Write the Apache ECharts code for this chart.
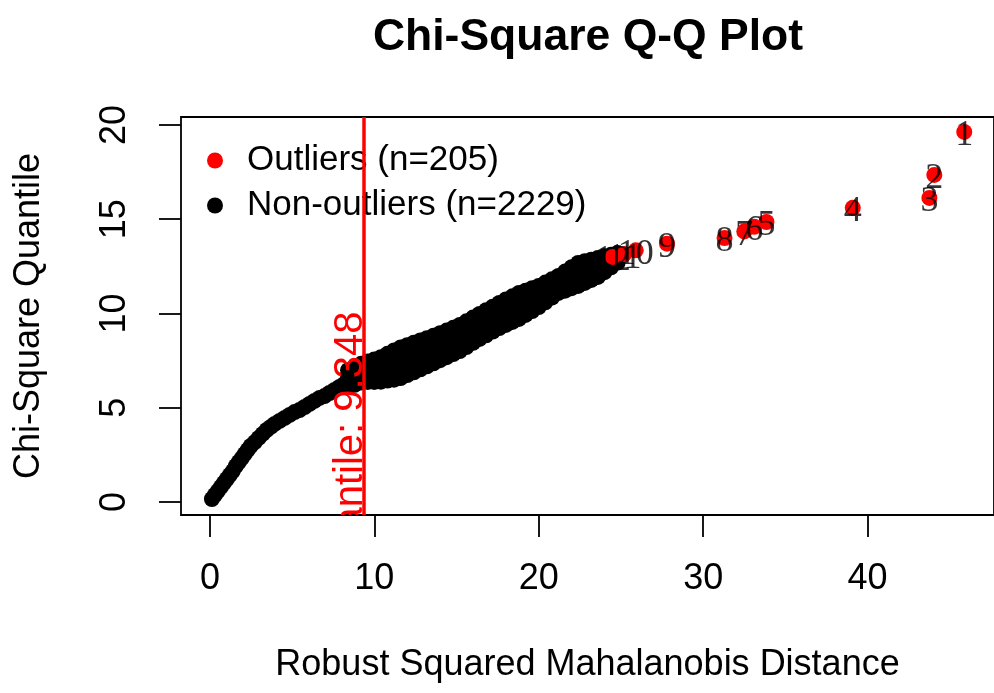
<!DOCTYPE html>
<html><head><meta charset="utf-8">
<script src="https://cdn.jsdelivr.net/npm/echarts@6/dist/echarts.min.js"></script>
<style>html,body{margin:0;padding:0;background:#fff}#c{width:994px;height:693px}</style>
</head><body><div id="c"></div>
<script>
// ---- axes ----
const xTicks = [0, 10, 20, 30, 40];
const yTicks = [0, 5, 10, 15, 20];
const cutoff = 9.348;
const cutoffLabel = '97.5% Quantile: 9.348';
const cutoffLabelEndY = 10.1;

// ---- non-outliers: lower tail ----
const tailX = [0.12,0.30,0.48,0.67,0.85,1.03,1.21,1.39,1.58,1.76,1.94,2.12,2.30,2.48,2.73,2.97,3.21,3.45,3.70,3.94,4.24,4.55,4.85,5.15,5.45,5.76,6.06,6.36,6.67,6.97,7.27,7.58,7.88,8.18,8.48,8.79,9.09];
const tailY = [0.16,0.37,0.58,0.80,1.01,1.22,1.43,1.64,1.91,2.12,2.33,2.55,2.76,2.97,3.18,3.40,3.61,3.82,3.98,4.14,4.30,4.46,4.62,4.77,4.88,5.04,5.20,5.36,5.52,5.62,5.78,5.94,6.10,6.26,6.42,6.58,6.74];

// ---- non-outliers: dense band (columns read along x, four rows across the band) ----
const bandX = [8.4,8.8,9.2,9.6,10.0,10.4,10.8,11.2,11.6,12.0,12.4,12.8,13.2,13.6,14.0,14.4,14.8,15.2,15.6,16.0,16.4,16.8,17.2,17.6,18.0,18.4,18.8,19.2,19.6,20.0,20.4,20.8,21.2,21.6,22.0,22.4,22.8,23.2,23.6,24.0,24.4,24.8];
const bandUpper = [6.99,7.16,7.33,7.45,7.56,7.68,7.86,8.04,8.20,8.32,8.45,8.57,8.69,8.82,8.95,9.09,9.24,9.39,9.58,9.78,9.97,10.17,10.36,10.56,10.74,10.91,11.09,11.21,11.34,11.46,11.64,11.81,11.99,12.22,12.45,12.68,12.77,12.85,12.94,13.03,13.11,13.20];
const bandMid1 = [6.70,6.85,7.00,7.09,7.16,7.25,7.39,7.52,7.66,7.79,7.93,8.06,8.19,8.33,8.47,8.62,8.78,8.93,9.13,9.33,9.53,9.73,9.92,10.12,10.29,10.46,10.63,10.78,10.94,11.09,11.29,11.49,11.69,11.88,12.08,12.27,12.39,12.49,12.61,12.75,12.89,13.03];
const bandMid2 = [6.40,6.53,6.67,6.73,6.77,6.81,6.91,7.01,7.11,7.26,7.40,7.55,7.70,7.85,8.00,8.15,8.31,8.47,8.67,8.89,9.09,9.28,9.48,9.67,9.84,10.00,10.17,10.35,10.53,10.71,10.94,11.16,11.39,11.55,11.71,11.87,12.00,12.14,12.27,12.47,12.67,12.87];
const bandLower = [6.11,6.22,6.34,6.37,6.37,6.38,6.44,6.49,6.57,6.73,6.88,7.04,7.20,7.36,7.52,7.68,7.85,8.01,8.22,8.44,8.65,8.84,9.04,9.23,9.39,9.55,9.71,9.92,10.13,10.34,10.59,10.84,11.09,11.21,11.34,11.46,11.62,11.78,11.94,12.19,12.45,12.70];

// ---- outliers ----
const outX = [45.88,44.06,43.76,39.10,33.85,33.10,32.50,31.30,27.80,25.90,25.20,24.50];
const outY = [19.63,17.35,16.13,15.60,14.85,14.60,14.35,14.00,13.70,13.35,13.15,13.00];
const outLabels = ['1','2','3','4','5','6','7','8','9','10','11','12'];

const outName = 'Outliers (n=205)';
const inName = 'Non-outliers (n=2229)';

const inData = [];
tailX.forEach((x, i) => inData.push([x, tailY[i]]));
[bandUpper, bandMid1, bandMid2, bandLower].forEach(row => bandX.forEach((x, i) => inData.push([x, row[i]])));
const outData = outX.map((x, i) => [x, outY[i]]);

const SANS = '"Liberation Sans", Arial, sans-serif';
const chart = echarts.init(document.getElementById('c'), null, {renderer: 'canvas'});
chart.setOption({
  animation: false,
  backgroundColor: '#fff',
  title: {
    text: 'Chi-Square Q-Q Plot', left: 583, top: 10, textAlign: 'center',
    textStyle: {fontFamily: SANS, fontSize: 44.5, fontWeight: 'bold', color: '#000'}
  },
  legend: {
    orient: 'vertical', left: 207, top: 143, padding: 0, itemGap: 10,
    itemWidth: 16, itemHeight: 16, icon: 'circle',
    data: [outName, inName],
    textStyle: {fontFamily: SANS, fontSize: 35, lineHeight: 35, color: '#000', padding: [0, 0, 0, 19]}
  },
  grid: {left: 181, top: 117, width: 816, height: 398, show: true, borderColor: '#000', borderWidth: 1.8, backgroundColor: 'transparent', containLabel: false},
  xAxis: {
    type: 'value', min: -1.76, max: 47.69,
    name: 'Robust Squared Mahalanobis Distance', nameLocation: 'middle', nameGap: 132,
    nameTextStyle: {fontFamily: SANS, fontSize: 36, lineHeight: 36, color: '#000'},
    axisLine: {show: false, onZero: false}, splitLine: {show: false},
    axisTick: {show: true, inside: false, length: 22, customValues: xTicks, lineStyle: {color: '#000', width: 1.8}},
    axisLabel: {customValues: xTicks, margin: 46, fontFamily: SANS, fontSize: 36, lineHeight: 36, color: '#000'}
  },
  yAxis: {
    type: 'value', min: -0.69, max: 20.42,
    name: 'Chi-Square Quantile', nameLocation: 'middle', nameGap: 134,
    nameTextStyle: {fontFamily: SANS, fontSize: 36, lineHeight: 36, color: '#000'},
    axisLine: {show: false, onZero: false}, splitLine: {show: false},
    axisTick: {show: true, inside: false, length: 22, customValues: yTicks, lineStyle: {color: '#000', width: 1.8}},
    axisLabel: {customValues: yTicks, rotate: 90, margin: 48, fontFamily: SANS, fontSize: 36, lineHeight: 36, color: '#000'}
  },
  series: [
    {
      name: inName, type: 'scatter', symbol: 'circle', symbolSize: 16, z: 2,
      itemStyle: {color: '#000', opacity: 1}, data: inData, silent: true
    },
    {
      name: outName, type: 'scatter', symbol: 'circle', symbolSize: 16, z: 3,
      itemStyle: {color: '#ff0000', opacity: 1}, data: outData, silent: true
    },
    {
      name: 'labels', type: 'scatter', symbolSize: 0, z: 4, silent: true,
      data: outData,
      label: {show: true, position: 'inside', offset: [0, 4], formatter: p => outLabels[p.dataIndex],
        fontFamily: '"Liberation Serif", "Times New Roman", serif', fontSize: 36, color: '#000'},
      markLine: {silent: true, symbol: ['none', 'none'], label: {show: false}, animation: false,
        lineStyle: {color: '#ff0000', width: 3.5, type: 'solid'}, emphasis: {disabled: true},
        data: [{xAxis: cutoff}]}
    },
    {
      name: 'cutoffText', type: 'custom', coordinateSystem: 'cartesian2d', clip: true, silent: true, z: 6,
      data: [[cutoff, cutoffLabelEndY]],
      renderItem: (params, api) => {
        const p = api.coord([api.value(0), api.value(1)]);
        return {type: 'text', x: p[0] + 7, y: p[1], rotation: Math.PI / 2,
          style: {text: cutoffLabel, fill: '#ff0000', font: '40px ' + SANS, align: 'right', verticalAlign: 'bottom', textAlign: 'right', textVerticalAlign: 'bottom'}};
      }
    }
  ]
});
</script></body></html>
